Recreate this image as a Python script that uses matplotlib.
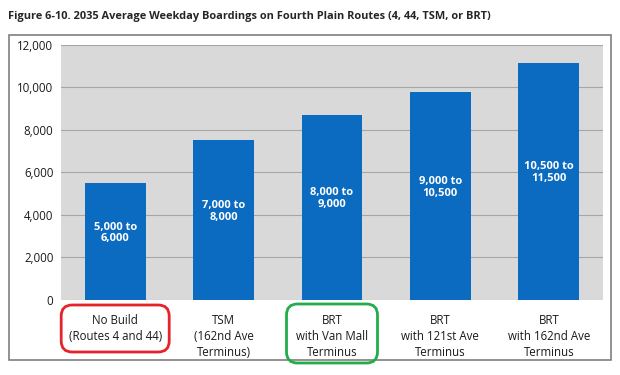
import matplotlib
matplotlib.use("Agg")
import matplotlib.pyplot as plt
from matplotlib.patches import FancyBboxPatch, Rectangle
from matplotlib.ticker import FuncFormatter

# data
categories = ["No Build\n(Routes 4 and 44)", "TSM\n(162nd Ave\nTerminus)",
              "BRT\nwith Van Mall\nTerminus", "BRT\nwith 121st Ave\nTerminus",
              "BRT\nwith 162nd Ave\nTerminus"]
boardings = [5500, 7500, 8700, 9750, 11150]
range_labels = ["5,000 to\n6,000", "7,000 to\n8,000", "8,000 to\n9,000",
                "9,000 to\n10,500", "10,500 to\n11,500"]
y_ticks = [0, 2000, 4000, 6000, 8000, 10000, 12000]
title = "Figure 6-10. 2035 Average Weekday Boardings on Fourth Plain Routes (4, 44, TSM, or BRT)"

W, H = 620, 375
plt.rcParams["font.family"] = ["Open Sans", "DejaVu Sans"]

fig = plt.figure(figsize=(W / 100, H / 100), dpi=100)
ax = fig.add_axes([61 / W, 1 - 300 / H, 542 / W, 255.5 / H])

# outer frame
fig.patches.append(Rectangle((9 / W, 1 - 360 / H), 602 / W, 325 / H,
                             transform=fig.transFigure, fill=False,
                             edgecolor="#7f7f7f", linewidth=1.2))

fig.text(8 / W, 1 - 17 / H, title, fontsize=7.9, fontweight="bold",
         color="#262626", va="center", ha="left")

ax.set_facecolor("#d9d9d9")
x = range(len(categories))
ax.bar(x, boardings, width=0.56, color="#0b6bc1", zorder=3)
for i, v in enumerate(boardings):
    ax.text(i, v / 2 + 400, range_labels[i], ha="center", va="center",
            color="white", fontsize=8, fontweight="bold", zorder=4,
            linespacing=1.1)

ax.set_xlim(-0.5, len(categories) - 0.5)
ax.set_ylim(0, 12000)
ax.set_yticks(y_ticks)
ax.yaxis.set_major_formatter(FuncFormatter(lambda v, p: f"{int(v):,}"))
ax.set_xticks(list(x))
ax.set_xticklabels(categories, fontsize=8.3, color="#1a1a1a", linespacing=1.3)
ax.tick_params(axis="y", length=0, pad=5.5, labelsize=8.3, labelcolor="#1a1a1a")
ax.tick_params(axis="x", length=0, pad=10)
ax.grid(axis="y", color="#a6a6a6", linewidth=0.8, zorder=0)
for s in ax.spines.values():
    s.set_visible(False)

# highlight boxes around two category labels
to_fig = ax.transData + fig.transFigure.inverted()
aspect = W / H
for idx, half_w, top, bottom, col in [(0, 54, 305, 352, "#e5232b"),
                                       (2, 45.5, 304, 363, "#22ad4a")]:
    cx = to_fig.transform((idx, 0))[0]
    x0 = cx - half_w / W
    fig.patches.append(FancyBboxPatch(
        (x0, 1 - bottom / H), 2 * half_w / W, (bottom - top) / H,
        boxstyle="round,pad=0,rounding_size=%f" % (11 / W),
        mutation_aspect=aspect, transform=fig.transFigure,
        fill=False, edgecolor=col, linewidth=2.0))

fig.savefig("out.png", dpi=100)
